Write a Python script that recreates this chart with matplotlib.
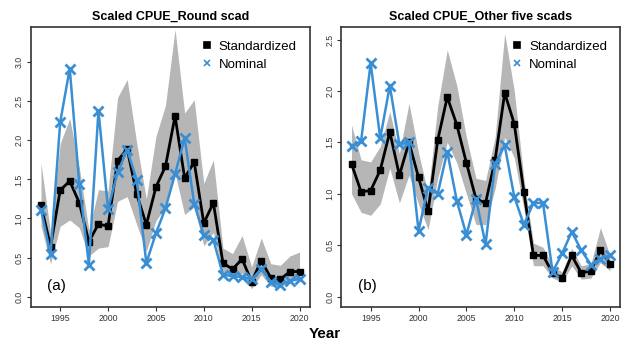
import matplotlib
matplotlib.use("Agg")
import matplotlib.pyplot as plt
import numpy as np

plt.rcParams['font.family'] = ['Liberation Sans', 'DejaVu Sans']

years = list(range(1993, 2021))

# (a) Round scad
std_a = [1.17, 0.64, 1.36, 1.48, 1.20, 0.70, 0.93, 0.90, 1.74, 1.89, 1.31, 0.92, 1.40, 1.67,
         2.31, 1.52, 1.72, 0.94, 1.20, 0.43, 0.35, 0.48, 0.19, 0.46, 0.24, 0.22, 0.32, 0.32]
nom_a = [1.11, 0.54, 2.23, 2.92, 1.44, 0.41, 2.38, 1.12, 1.59, 1.88, 1.49, 0.43, 0.81, 1.13,
         1.57, 2.03, 1.19, 0.79, 0.73, 0.28, 0.26, 0.25, 0.22, 0.35, 0.19, 0.15, 0.20, 0.23]
up_a = [1.71, 0.81, 1.96, 2.28, 1.65, 0.85, 1.37, 1.35, 2.55, 2.78, 1.96, 1.25, 2.05, 2.45,
        3.42, 2.35, 2.52, 1.45, 1.75, 0.62, 0.55, 0.78, 0.38, 0.75, 0.42, 0.40, 0.52, 0.57]
lo_a = [0.90, 0.42, 0.90, 0.98, 0.88, 0.52, 0.62, 0.64, 1.22, 1.28, 0.92, 0.58, 0.97, 1.15,
        1.58, 1.05, 1.15, 0.65, 0.82, 0.30, 0.24, 0.30, 0.10, 0.28, 0.13, 0.12, 0.20, 0.20]

# (b) Other five scads
std_b = [1.29, 1.02, 1.03, 1.23, 1.60, 1.18, 1.50, 1.16, 0.83, 1.52, 1.94, 1.67, 1.30, 0.95,
         0.91, 1.33, 1.98, 1.68, 1.02, 0.40, 0.40, 0.23, 0.18, 0.40, 0.23, 0.25, 0.45, 0.32]
nom_b = [1.46, 1.51, 2.27, 1.54, 2.05, 1.48, 1.50, 0.64, 1.06, 1.00, 1.41, 0.93, 0.60, 0.95,
         0.51, 1.29, 1.47, 0.97, 0.70, 0.91, 0.91, 0.24, 0.42, 0.63, 0.45, 0.31, 0.37, 0.40]
up_b = [1.67, 1.33, 1.31, 1.46, 1.80, 1.39, 1.88, 1.40, 1.00, 1.85, 2.40, 2.05, 1.55, 1.15,
        1.13, 1.55, 2.56, 2.00, 1.15, 0.52, 0.48, 0.30, 0.24, 0.47, 0.30, 0.32, 0.67, 0.40]
lo_b = [1.00, 0.82, 0.79, 0.90, 1.25, 0.91, 1.18, 0.90, 0.65, 1.15, 1.50, 1.30, 1.00, 0.70,
        0.70, 1.05, 1.55, 1.35, 0.85, 0.30, 0.30, 0.18, 0.14, 0.30, 0.17, 0.18, 0.33, 0.25]

BLUE = '#3a8fd4'
GREY = '#b6b6b6'

fig = plt.figure(figsize=(6.26, 3.44), dpi=100)


def panel(rect, std, nom, up, lo, title, tag, ylim, yticks):
    ax = fig.add_axes(rect)
    ax.fill_between(years, lo, up, color=GREY, lw=0, zorder=1)
    ax.plot(years, std, color='black', lw=2, marker='s', ms=5, zorder=3, label='Standardized')
    ax.plot(years, nom, color=BLUE, lw=1.8, marker='x', ms=6.5, mew=2, zorder=4, label='Nominal')
    ax.set_xlim(1991.92, 2021.08)
    ax.set_ylim(*ylim)
    ax.set_xticks([1995, 2000, 2005, 2010, 2015, 2020])
    ax.set_yticks(yticks)
    ax.set_yticklabels(['%.1f' % v for v in yticks], rotation=90, va='center')
    ax.tick_params(labelsize=6.3, length=3, width=0.8, pad=2, colors='#333333')
    for s in ax.spines.values():
        s.set_linewidth(1.2)
        s.set_color('#333333')
    ax.set_title(title, fontsize=9, fontweight='bold', pad=5)
    ax.text(0.06, 0.06, tag, transform=ax.transAxes, fontsize=11)
    h, l = ax.get_legend_handles_labels()
    leg = ax.legend(h, l, loc='upper right', frameon=False, fontsize=9.5,
                    handlelength=0.6, handletextpad=0.6, borderaxespad=0.6,
                    labelspacing=0.45)
    for line in leg.get_lines():
        line.set_linestyle('none')
        line.set_markersize(4)
        line.set_markeredgewidth(1.2)
    return ax


panel([0.049, 0.108, 0.446, 0.813], std_a, nom_a, up_a, lo_a,
      'Scaled CPUE_Round scad', '(a)', (-0.132, 3.45), [0, 0.5, 1.0, 1.5, 2.0, 2.5, 3.0])
panel([0.545, 0.108, 0.446, 0.813], std_b, nom_b, up_b, lo_b,
      'Scaled CPUE_Other five scads', '(b)', (-0.1, 2.62), [0, 0.5, 1.0, 1.5, 2.0, 2.5])

fig.text(0.519, 0.03, 'Year', ha='center', va='center', fontsize=11, fontweight='bold')

fig.savefig('out.png', dpi=100)
